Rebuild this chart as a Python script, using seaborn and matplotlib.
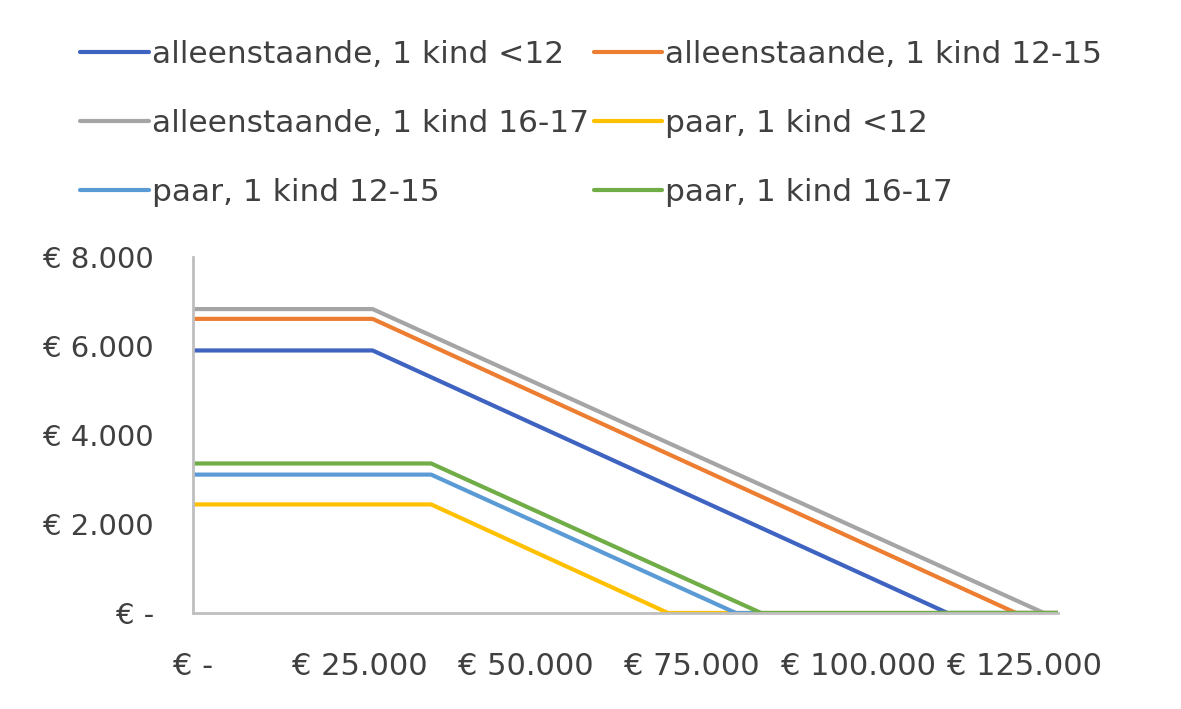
import matplotlib
matplotlib.use("Agg")
import matplotlib.pyplot as plt
import seaborn as sns
import pandas as pd

series = ["alleenstaande, 1 kind <12", "alleenstaande, 1 kind 12-15",
          "alleenstaande, 1 kind 16-17", "paar, 1 kind <12",
          "paar, 1 kind 12-15", "paar, 1 kind 16-17"]
plateau = [5900, 6610, 6830, 2440, 3110, 3360]
knee_x = [27000, 27000, 27000, 35800, 35800, 35800]
zero_x = [113400, 123700, 127900, 71400, 81600, 85400]
end_x = 130000
colors = ["#3F63C0", "#ED7D31", "#A5A5A5", "#FFC000", "#5B9BD5", "#70AD47"]

xticks = [0, 25000, 50000, 75000, 100000, 125000]
xticklabels = ["€ -", "€ 25.000", "€ 50.000", "€ 75.000", "€ 100.000", "€ 125.000"]
yticks = [0, 2000, 4000, 6000, 8000]
yticklabels = ["€ -", "€ 2.000", "€ 4.000", "€ 6.000", "€ 8.000"]

rows = []
for name, p, k, z in zip(series, plateau, knee_x, zero_x):
    for x, y in [(0, p), (k, p), (z, 0), (end_x, 0)]:
        rows.append({"serie": name, "inkomen": x, "bedrag": y})
df = pd.DataFrame(rows)

sns.set_theme(style="white")
plt.rcParams["font.family"] = ["DejaVu Sans"]

fig = plt.figure(figsize=(11.81, 7.09), dpi=100)
ax = fig.add_axes([0.1634, 0.1354, 0.7324, 0.5021])

sns.lineplot(data=df, x="inkomen", y="bedrag", hue="serie", hue_order=series,
             palette=colors, linewidth=3, ax=ax, legend=True)

ax.set_xlim(0, end_x)
ax.set_ylim(0, 8000)
ax.set_xlabel("")
ax.set_ylabel("")
ax.set_xticks(xticks)
ax.set_xticklabels(xticklabels, fontsize=22, color="#404040")
ax.set_yticks(yticks)
ax.set_yticklabels(yticklabels, fontsize=21, color="#404040")
ax.tick_params(axis="both", length=0)
ax.tick_params(axis="x", pad=28)
ax.tick_params(axis="y", pad=28)
for s in ["top", "right"]:
    ax.spines[s].set_visible(False)
for s in ["left", "bottom"]:
    ax.spines[s].set_color("#BFBFBF")
    ax.spines[s].set_linewidth(2)

handles, labels = ax.get_legend_handles_labels()
ax.get_legend().remove()
order = [0, 2, 4, 1, 3, 5]
fig.legend([handles[i] for i in order], [labels[i] for i in order],
           ncol=2, loc="upper left", bbox_to_anchor=(0.0677, 0.944),
           frameon=False, prop={"size": 22.5}, borderpad=0, borderaxespad=0,
           handlelength=2.2, handletextpad=0.1, columnspacing=0.15,
           labelspacing=1.28, labelcolor="#404040")

fig.savefig("out.png", dpi=100)
